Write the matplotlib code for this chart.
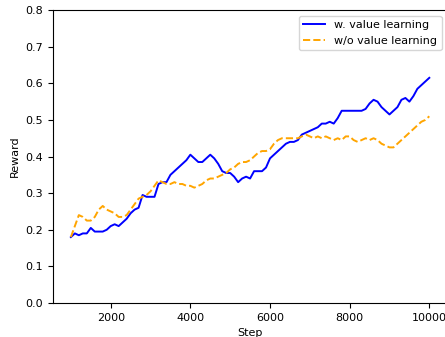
import numpy as np
import matplotlib
matplotlib.use('Agg')
import matplotlib.pyplot as plt

# %% Data (every 100 steps)
steps = np.arange(1000, 10001, 100)

reward_value = [0.18, 0.19, 0.185, 0.19, 0.19, 0.205, 0.195, 0.195, 0.195, 0.20,
                0.21, 0.215, 0.21, 0.22, 0.23, 0.245, 0.255, 0.26, 0.295, 0.29,
                0.29, 0.29, 0.325, 0.33, 0.33, 0.35, 0.36, 0.37, 0.38, 0.39,
                0.405, 0.395, 0.385, 0.385, 0.395, 0.405, 0.395, 0.38, 0.36, 0.355,
                0.355, 0.345, 0.33, 0.34, 0.345, 0.34, 0.36, 0.36, 0.36, 0.37,
                0.395, 0.405, 0.415, 0.425, 0.435, 0.44, 0.44, 0.445, 0.46, 0.465,
                0.47, 0.475, 0.48, 0.49, 0.49, 0.495, 0.49, 0.505, 0.525, 0.525,
                0.525, 0.525, 0.525, 0.525, 0.53, 0.545, 0.555, 0.55, 0.535, 0.525,
                0.515, 0.525, 0.535, 0.555, 0.56, 0.55, 0.565, 0.585, 0.595, 0.605,
                0.615]

reward_novalue = [0.18, 0.21, 0.24, 0.235, 0.225, 0.225, 0.235, 0.255, 0.265, 0.255,
                  0.25, 0.245, 0.235, 0.235, 0.24, 0.255, 0.27, 0.285, 0.29, 0.295,
                  0.305, 0.32, 0.335, 0.33, 0.325, 0.325, 0.33, 0.325, 0.325, 0.32,
                  0.32, 0.315, 0.32, 0.325, 0.335, 0.34, 0.34, 0.345, 0.35, 0.355,
                  0.365, 0.37, 0.38, 0.385, 0.385, 0.39, 0.40, 0.41, 0.415, 0.415,
                  0.42, 0.435, 0.445, 0.45, 0.45, 0.45, 0.45, 0.45, 0.455, 0.46,
                  0.455, 0.45, 0.455, 0.45, 0.455, 0.45, 0.445, 0.45, 0.445, 0.455,
                  0.455, 0.445, 0.44, 0.445, 0.45, 0.445, 0.45, 0.445, 0.435, 0.43,
                  0.425, 0.425, 0.435, 0.445, 0.455, 0.465, 0.475, 0.485, 0.495, 0.50,
                  0.51]

# %% Plot
plt.rcParams['font.size'] = 8
fig = plt.figure(figsize=(4.45, 3.37), dpi=100)
ax = fig.add_axes([0.119, 0.101, 0.886, 0.869])

ax.plot(steps, reward_value, color='blue', lw=1.4, label='w. value learning')
ax.plot(steps, reward_novalue, color='orange', lw=1.4, ls='--', label='w/o value learning')

ax.set_ylim(0, 0.8)
ax.set_xlim(550, 10450)
ax.set_xticks([2000, 4000, 6000, 8000, 10000])
ax.set_xlabel('Step')
ax.set_ylabel('Reward')
ax.legend(loc='upper right')

fig.savefig('out.png', dpi=100)
